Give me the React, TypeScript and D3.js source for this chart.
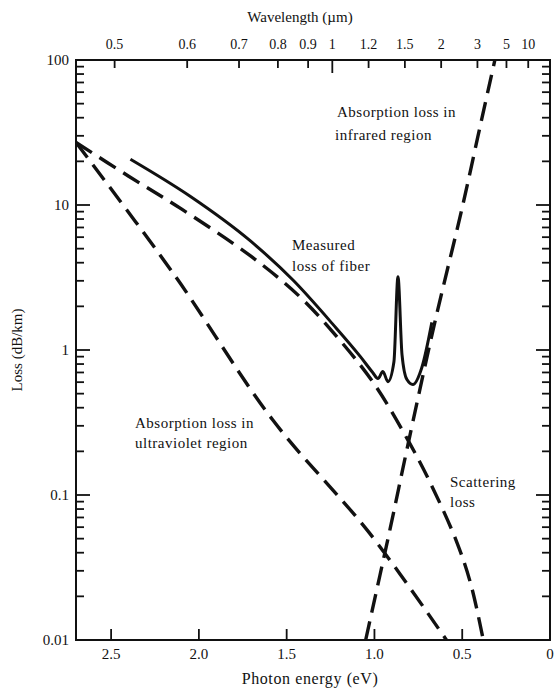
import React from "react";
import * as d3 from "d3";

const W = 556;
const H = 689;
const plot = { left: 76, right: 550, top: 60, bottom: 640 };

// Photon energy (eV) and loss (dB/km) of each loss mechanism
const scatterEnergy = [2.7, 2.4, 2.1, 1.7, 1.42, 1.2, 1.0, 0.81, 0.68, 0.53, 0.45, 0.38];
const scatterLoss = [27, 15.8, 9.4, 4.4, 2.3, 1.18, 0.58, 0.24, 0.12, 0.047, 0.024, 0.01];

const uvEnergy = [2.7, 2.14, 1.58, 1.03, 0.59];
const uvLoss = [27, 3.3, 0.33, 0.055, 0.01];

const irEnergy = [1.05, 0.91, 0.81, 0.66, 0.5, 0.4, 0.314];
const irLoss = [0.01, 0.059, 0.22, 1.48, 9.6, 34, 100];

const measuredEnergy = [2.39, 2.05, 1.71, 1.46, 1.24, 1.08, 1.01, 0.98, 0.952, 0.923, 0.889, 0.866, 0.843, 0.815, 0.781, 0.73, 0.673];
const measuredLoss = [20.7, 11.5, 5.7, 3.0, 1.52, 0.9, 0.7, 0.635, 0.71, 0.605, 0.83, 3.2, 0.93, 0.625, 0.578, 0.757, 1.55];

// Axis ticks
const energyTicks = [2.5, 2.0, 1.5, 1.0, 0.5, 0];
const energyLabels = ["2.5", "2.0", "1.5", "1.0", "0.5", "0"];
const wavelengthTicks = [0.5, 0.6, 0.7, 0.8, 0.9, 1, 1.2, 1.5, 2, 3, 5, 10];
const wavelengthLabels = ["0.5", "0.6", "0.7", "0.8", "0.9", "1", "1.2", "1.5", "2", "3", "5", "10"];
const lossTicks = [100, 10, 1, 0.1, 0.01];
const lossLabels = ["100", "10", "1", "0.1", "0.01"];

const FONT = "'Liberation Serif', 'Times New Roman', serif";
const INK = "#111";

const x = d3.scaleLinear().domain([2.7, 0]).range([plot.left, plot.right]);
const y = d3.scaleLog().domain([0.01, 100]).range([plot.bottom, plot.top]);

// Smooth model curves; the measured curve keeps its sharp absorption peaks
const smoothLine = d3
  .line<[number, number]>()
  .x((d) => x(d[0]))
  .y((d) => y(d[1]))
  .curve(d3.curveCatmullRom.alpha(0.5));

const peakLine = d3
  .line<[number, number]>()
  .x((d) => x(d[0]))
  .y((d) => y(d[1]))
  .curve(d3.curveMonotoneX);

const zip = (e: number[], l: number[]) => e.map((v, i) => [v, l[i]] as [number, number]);

export default function App() {
  const minor = y.ticks();
  const dash = "19,9";
  return (
    <svg width={W} height={H} style={{ display: "block", position: "absolute", left: 0, top: 0, background: "#fff" }}>
      <defs>
        <clipPath id="plotClip">
          <rect x={plot.left} y={plot.top} width={plot.right - plot.left} height={plot.bottom - plot.top} />
        </clipPath>
      </defs>
      <rect x={0} y={0} width={W} height={H} fill="#fff" />

      {/* frame */}
      <rect
        x={plot.left}
        y={plot.top}
        width={plot.right - plot.left}
        height={plot.bottom - plot.top}
        fill="none"
        stroke={INK}
        strokeWidth={2}
      />

      {/* left and right log ticks */}
      {minor.map((t, i) => {
        const major = lossTicks.includes(t);
        const len = major ? 14 : 8;
        return (
          <g key={"yt" + i} stroke={INK} strokeWidth={1.8}>
            <line x1={plot.left} x2={plot.left + len} y1={y(t)} y2={y(t)} />
            <line x1={plot.right} x2={plot.right - len} y1={y(t)} y2={y(t)} />
          </g>
        );
      })}
      {lossTicks.map((t, i) => (
        <text key={"yl" + i} x={plot.left - 7} y={y(t)} dy="0.35em" textAnchor="end" fontSize={15} fontFamily={FONT} fill={INK}>
          {lossLabels[i]}
        </text>
      ))}

      {/* bottom photon energy axis */}
      {energyTicks.map((t, i) => (
        <g key={"xt" + i}>
          <line x1={x(t)} x2={x(t)} y1={plot.bottom} y2={plot.bottom - 11} stroke={INK} strokeWidth={1.8} />
          <text x={x(t)} y={plot.bottom + 19} textAnchor="middle" fontSize={15} fontFamily={FONT} fill={INK}>
            {energyLabels[i]}
          </text>
        </g>
      ))}

      {/* top wavelength axis, E = 1.24 / λ */}
      {wavelengthTicks.map((w, i) => {
        const px = x(1.24 / w);
        return (
          <g key={"wt" + i}>
            <line x1={px} x2={px} y1={plot.top} y2={plot.top + (w === 1 ? 13 : 8)} stroke={INK} strokeWidth={1.8} />
            <text x={px} y={plot.top - 11} textAnchor="middle" fontSize={14} fontFamily={FONT} fill={INK}>
              {wavelengthLabels[i]}
            </text>
          </g>
        );
      })}

      {/* curves */}
      <g clipPath="url(#plotClip)" fill="none" stroke={INK} strokeWidth={3.4}>
        <path d={smoothLine(zip(scatterEnergy, scatterLoss)) || ""} strokeDasharray={dash} />
        <path d={smoothLine(zip(uvEnergy, uvLoss)) || ""} strokeDasharray={dash} />
        <path d={smoothLine(zip(irEnergy, irLoss)) || ""} strokeDasharray={dash} />
        <path d={peakLine(zip(measuredEnergy, measuredLoss)) || ""} strokeWidth={3} strokeLinejoin="round" />
      </g>

      {/* annotations */}
      <g fontSize={15} fontFamily={FONT} fill={INK} letterSpacing={0.5}>
        <text x={337} y={117}>Absorption loss in</text>
        <text x={335} y={140}>infrared region</text>
        <text x={292} y={250}>Measured</text>
        <text x={292} y={271}>loss of fiber</text>
        <text x={135} y={428}>Absorption loss in</text>
        <text x={135} y={448}>ultraviolet region</text>
        <text x={450} y={487}>Scattering</text>
        <text x={450} y={507}>loss</text>
      </g>

      {/* axis titles */}
      <text x={300} y={22} textAnchor="middle" fontSize={15} fontFamily={FONT} fill={INK}>
        Wavelength (µm)
      </text>
      <text x={310} y={684} textAnchor="middle" fontSize={16} fontFamily={FONT} fill={INK} letterSpacing={0.6}>
        Photon energy (eV)
      </text>
      <text
        transform={`translate(22, ${y(1)}) rotate(-90)`}
        textAnchor="middle"
        fontSize={15}
        fontFamily={FONT}
        fill={INK}
      >
        Loss (dB/km)
      </text>
    </svg>
  );
}
